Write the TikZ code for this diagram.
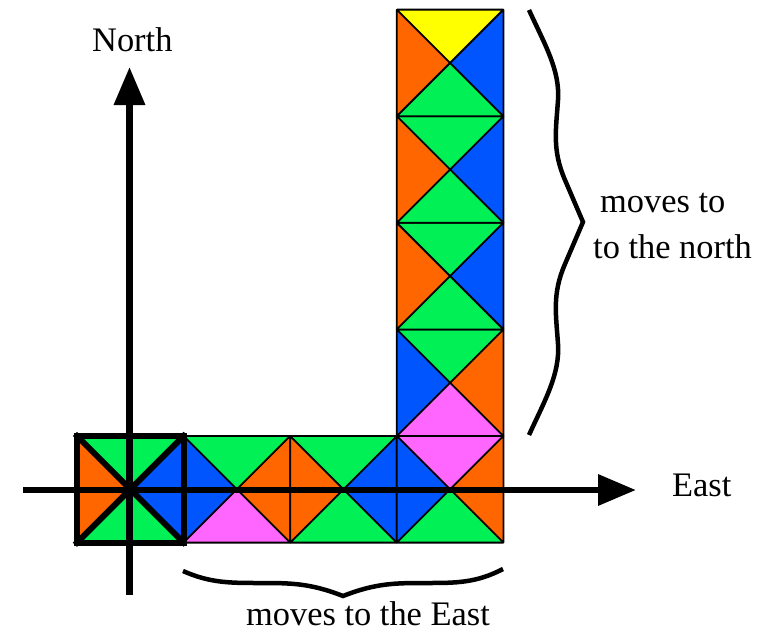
\documentclass[tikz,border=0pt]{standalone}
\usepackage{fontspec}
\setmainfont{Liberation Serif}
\usetikzlibrary{arrows.meta}
\definecolor{cgreen}{RGB}{0,240,85}
\definecolor{cblue}{RGB}{0,85,255}
\definecolor{corange}{RGB}{255,102,0}
\definecolor{cmag}{RGB}{255,102,255}
\definecolor{cyel}{RGB}{255,255,0}
\def\sqs{106.6}
\def\sqh{53.3}
\tikzset{
  thinline/.style={line width=1.8pt,black,line join=round},
  thickline/.style={line width=6pt,black},
  axis/.style={line width=6.5pt,black,-{Triangle[length=38pt,width=30pt]}},
  brace/.style={line width=4.5pt,black,line join=miter},
  lbl/.style={font=\fontsize{34.4}{38}\selectfont,inner sep=0pt}
}
\newcommand\tsq[6]{%
 \fill[#3] (#1,#2) -- (#1+\sqs,#2) -- (#1+\sqh,#2+\sqh) -- cycle;
 \fill[#4] (#1+\sqs,#2) -- (#1+\sqs,#2+\sqs) -- (#1+\sqh,#2+\sqh) -- cycle;
 \fill[#5] (#1,#2+\sqs) -- (#1+\sqs,#2+\sqs) -- (#1+\sqh,#2+\sqh) -- cycle;
 \fill[#6] (#1,#2) -- (#1,#2+\sqs) -- (#1+\sqh,#2+\sqh) -- cycle;
 \draw[thinline] (#1,#2) rectangle (#1+\sqs,#2+\sqs)
   (#1,#2) -- (#1+\sqs,#2+\sqs) (#1+\sqs,#2) -- (#1,#2+\sqs);}
\begin{document}
\begin{tikzpicture}[x=1pt,y=-1pt]
\useasboundingbox (0,0) rectangle (766,635);
% bottom row
\tsq{77}{436}{cgreen}{cblue}{cgreen}{corange}
\tsq{183.6}{436}{cgreen}{corange}{cmag}{cblue}
\tsq{290.2}{436}{cgreen}{cblue}{cgreen}{corange}
\tsq{396.8}{436}{cmag}{corange}{cgreen}{cblue}
% column
\tsq{396.8}{329.4}{cgreen}{corange}{cmag}{cblue}
\tsq{396.8}{222.8}{cgreen}{cblue}{cgreen}{corange}
\tsq{396.8}{116.2}{cgreen}{cblue}{cgreen}{corange}
\tsq{396.8}{9.6}{cyel}{cblue}{cgreen}{corange}
% thick origin square
\coordinate (A) at (77,436);
\coordinate (B) at (183.6,436);
\coordinate (C) at (183.6,542.6);
\coordinate (D) at (77,542.6);
\draw[thickline,line cap=rect] (A) -- (C) (B) -- (D);
\draw[thickline,line join=miter] (A) -- (B) -- (C) -- (D) -- cycle;
% axes
\coordinate (xs) at (23,490);
\coordinate (xe) at (636,490);
\coordinate (ys) at (129.5,595);
\coordinate (ye) at (129.5,67);
\draw[axis] (xs) -- (xe);
\draw[axis] (ys) -- (ye);
\node[lbl,anchor=base west] (north) at (92,51) {North};
\node[lbl,anchor=base west] (east) at (672,496) {East};
% braces
\draw[brace] (529,10) .. controls (545,45) and (560,70) .. (558,100)
  .. controls (556,130) and (552,150) .. (565,180) -- (583,222)
  -- (565,264) .. controls (552,294) and (556,314) .. (558,344)
  .. controls (560,374) and (545,400) .. (529,435);
\draw[brace] (183,571) .. controls (210,583) and (230,583) .. (260,583)
  .. controls (290,583) and (310,583) .. (343,596)
  .. controls (376,583) and (396,583) .. (426,583)
  .. controls (456,583) and (476,583) .. (503,569);
\node[lbl,anchor=base west] (m1) at (600,212) {moves to};
\node[lbl,anchor=base west] (m2) at (593,258) {to the north};
\node[lbl,anchor=base] (m3) at (368,625) {moves to the East};
\end{tikzpicture}
\end{document}
